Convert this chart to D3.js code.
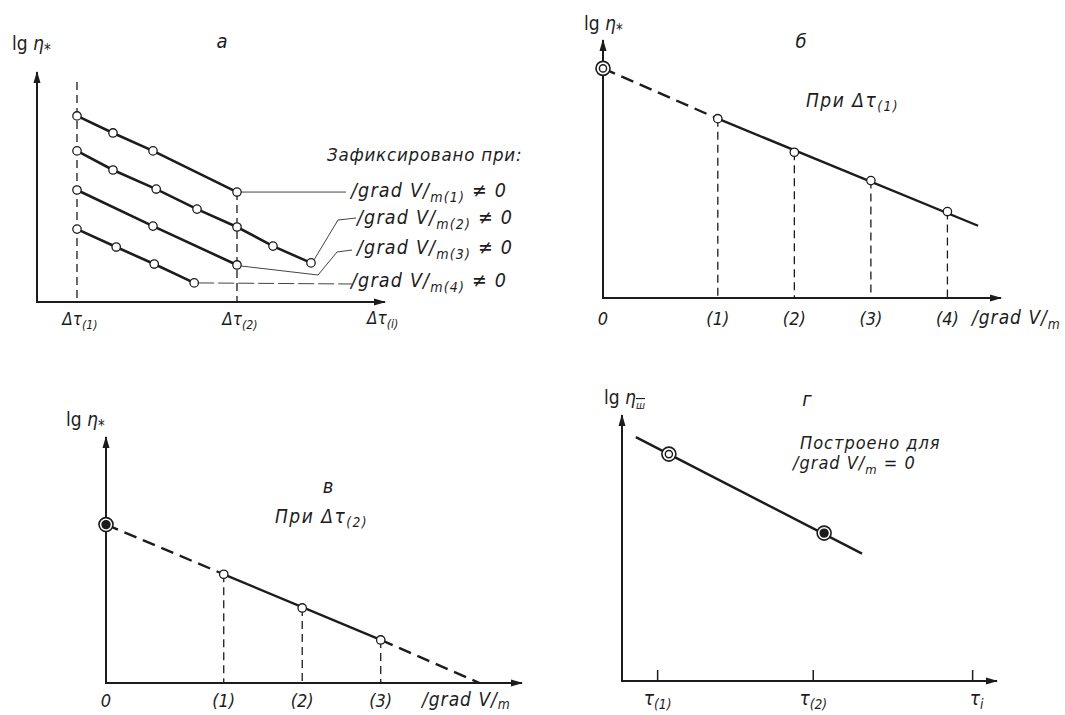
<!DOCTYPE html>
<html>
<head>
<meta charset="utf-8">
<script src="https://cdn.jsdelivr.net/npm/d3@7"></script>
<style>
body { margin: 0; background: #fff; }
text { font-family: "DejaVu Sans Condensed", "Liberation Sans Narrow", sans-serif; font-style: italic; fill: #1c1c1c; }
</style>
</head>
<body>
<svg id="chart" width="1065" height="715"></svg>
<script>
// panel a: lg eta vs delta tau, one line per fixed |grad V|
var aX1 = [1, 1.9, 2.9, 5], aY1 = [8.09, 7.35, 6.57, 4.78]
var aX2 = [1, 1.9, 2.98, 4, 5, 5.9, 6.85], aY2 = [6.57, 5.74, 4.91, 4.04, 3.26, 2.43, 1.70]
var aX3 = [1, 2.9, 5], aY3 = [4.87, 3.30, 1.61]
var aX4 = [1, 1.98, 2.93, 3.93], aY4 = [3.17, 2.39, 1.65, 0.83]
var aTauTicks = [1, 5]
var aTauNames = ["(1)", "(2)"]
var aGradNames = ["(1)", "(2)", "(3)", "(4)"]

// panel б: lg eta vs |grad V| at delta tau (1)
var bGrad = [1.5, 2.5, 3.5, 4.5]
var bLg = [6.95, 5.65, 4.55, 3.35]
var bZero = 8.9
var bEnd = [4.9, 2.8]

// panel в: lg eta vs |grad V| at delta tau (2)
var vGrad = [1.5, 2.5, 3.5]
var vLg = [4.42, 3.05, 1.75]
var vZero = 6.44
var vEnd = [4.76, 0]

// panel г: lg eta_ш vs tau
var gTau = [0.95, 5.1, 9.35]
var gTauNames = ["(1)", "(2)", "i"]
var gLineX = [0.37, 6.4], gLineY = [9.17, 4.79]
var gOpen = [1.25, 8.53]
var gFilled = [5.39, 5.56]

var ink = "#1c1c1c"
var svg = d3.select("#chart")

svg.append("defs").append("marker")
  .attr("id", "arr")
  .attr("viewBox", "0 -4 12 8")
  .attr("refX", 11).attr("refY", 0)
  .attr("markerWidth", 12).attr("markerHeight", 8)
  .attr("markerUnits", "userSpaceOnUse")
  .attr("orient", "auto")
  .append("path").attr("d", "M0,-3.5L12,0L0,3.5Z").attr("fill", ink)

// text with subscript pieces: [text, shift]
function rich(x, y, parts, size, anchor, spacing) {
  var t = svg.append("text").attr("x", x).attr("y", y)
    .attr("font-size", size).attr("text-anchor", anchor || "start")
    .attr("letter-spacing", spacing || 0)
  var cur = 0
  parts.forEach(function(p) {
    var shift = p[1] || 0
    var s = t.append("tspan").text(p[0]).attr("dy", shift - cur)
    if (shift > 0) s.attr("font-size", size * 0.72)
    cur = shift
  })
  return t
}

function axes(x, y) {
  var x0 = x(0), y0 = y(0)
  svg.append("line").attr("x1", x0).attr("y1", y0).attr("x2", x0).attr("y2", y.range()[1])
    .attr("stroke", ink).attr("stroke-width", 2).attr("marker-end", "url(#arr)")
  svg.append("line").attr("x1", x0 - 1).attr("y1", y0).attr("x2", x.range()[1]).attr("y2", y0)
    .attr("stroke", ink).attr("stroke-width", 2).attr("marker-end", "url(#arr)")
}

function lgLabel(x, y, sub) {
  var t = svg.append("text").attr("x", x).attr("y", y).attr("font-size", 19)
  t.append("tspan").text("lg ").attr("font-style", "normal")
  t.append("tspan").text("η")
  var s = t.append("tspan").text(sub).attr("dy", 5).attr("font-size", 15)
  if (sub == "ш") s.attr("text-decoration", "overline").attr("font-size", 11)
}

function seg(x, y, p, q, dash, w) {
  svg.append("line")
    .attr("x1", x(p[0])).attr("y1", y(p[1])).attr("x2", x(q[0])).attr("y2", y(q[1]))
    .attr("stroke", ink).attr("stroke-width", w || 2.4)
    .attr("stroke-dasharray", dash || null)
}

function openDot(cx, cy) {
  svg.append("circle").attr("cx", cx).attr("cy", cy).attr("r", 4.2)
    .attr("fill", "#fff").attr("stroke", ink).attr("stroke-width", 1.3)
}

function ringDot(cx, cy, filled) {
  svg.append("circle").attr("cx", cx).attr("cy", cy).attr("r", 7)
    .attr("fill", "#fff").attr("stroke", ink).attr("stroke-width", 1.6)
  svg.append("circle").attr("cx", cx).attr("cy", cy).attr("r", filled ? 4 : 3.6)
    .attr("fill", filled ? ink : "#fff").attr("stroke", ink).attr("stroke-width", 1.4)
}

var line = d3.line()

// ---------- panel a ----------
var ax = d3.scaleLinear().domain([0, 8.7]).range([37, 385])
var ay = d3.scaleLinear().domain([0, 10]).range([302, 72])

// dashed verticals at delta tau (1) and (2)
svg.append("line").attr("x1", ax(aTauTicks[0])).attr("x2", ax(aTauTicks[0]))
  .attr("y1", 82).attr("y2", ay(0))
  .attr("stroke", ink).attr("stroke-width", 1.3).attr("stroke-dasharray", "8,5")
svg.append("line").attr("x1", ax(aTauTicks[1])).attr("x2", ax(aTauTicks[1]))
  .attr("y1", ay(aY1[aY1.length - 1])).attr("y2", ay(0))
  .attr("stroke", ink).attr("stroke-width", 1.3).attr("stroke-dasharray", "8,5")

axes(ax, ay)

var aXs = [aX1, aX2, aX3, aX4], aYs = [aY1, aY2, aY3, aY4]

// leader lines from line ends to labels
var aLabelY = [197, 224, 254, 287]
var ends = aXs.map(function(xs, i) { return [ax(xs[xs.length - 1]), ay(aYs[i][aYs[i].length - 1])] })
var leaders = [
  [ends[0], [346, ends[0][1]]],
  [[ends[1][0] + 3, ends[1][1] - 3], [338, 220], [356, 218]],
  [[ends[2][0] + 4, ends[2][1] + 1], [318, 275], [337, 252], [352, 250]],
  [[ends[3][0] + 4, ends[3][1]], [352, 284]]
]
leaders.forEach(function(pts, i) {
  svg.append("path").attr("d", line(pts)).attr("fill", "none")
    .attr("stroke", "#444").attr("stroke-width", 1)
    .attr("stroke-dasharray", i == 3 ? "16,4" : null)
})

aXs.forEach(function(xs, i) {
  var pts = xs.map(function(v, j) { return [ax(v), ay(aYs[i][j])] })
  svg.append("path").attr("d", line(pts)).attr("fill", "none")
    .attr("stroke", ink).attr("stroke-width", 2.6)
  pts.forEach(function(p) { openDot(p[0], p[1]) })
})

lgLabel(12, 50, "*")
svg.append("text").attr("x", 222).attr("y", 48).attr("font-size", 20).attr("text-anchor", "middle").text("а")
svg.append("text").attr("x", 327).attr("y", 161).attr("font-size", 18.5)
  .attr("letter-spacing", 0.8).text("Зафиксировано при:")
aGradNames.forEach(function(n, i) {
  rich([351, 357, 357, 351][i], aLabelY[i], [["/grad V/"], ["m" + n, 5], [" ≠ 0", 0]], 19.5, "start", 1.2)
})
aTauTicks.forEach(function(v, i) {
  rich(ax(v) + 3, 325, [["Δτ"], [aTauNames[i], 4]], 17, "middle")
})
rich(367, 324, [["Δτ"], ["(i)", 4]], 17)

// ---------- panel б ----------
var bx = d3.scaleLinear().domain([0, 5.2]).range([603, 1001])
var by = d3.scaleLinear().domain([0, 10]).range([298, 40])

bGrad.forEach(function(g, i) {
  seg(bx, by, [g, bLg[i]], [g, 0], "8,5", 1.3)
})
axes(bx, by)
seg(bx, by, [0, bZero], [bGrad[0], bLg[0]], "13,7")
seg(bx, by, [bGrad[0], bLg[0]], bEnd)
bGrad.forEach(function(g, i) { openDot(bx(g), by(bLg[i])) })
ringDot(bx(0), by(bZero), false)

lgLabel(584, 30, "*")
svg.append("text").attr("x", 801).attr("y", 48).attr("font-size", 20).attr("text-anchor", "middle").text("б")
rich(806, 107, [["При  Δτ"], ["(1)", 4]], 19, "start", 1.5)
svg.append("text").attr("x", bx(0)).attr("y", 325).attr("font-size", 18).attr("text-anchor", "middle").text("0")
bGrad.forEach(function(g, i) {
  svg.append("text").attr("x", bx(g)).attr("y", 325).attr("font-size", 18).attr("text-anchor", "middle").text(aGradNames[i])
})
rich(972, 324, [["/grad V/"], ["m", 5]], 19, "start", 1)

// ---------- panel в ----------
var vx = d3.scaleLinear().domain([0, 5.3]).range([106, 522])
var vy = d3.scaleLinear().domain([0, 10]).range([683, 437])

vGrad.forEach(function(g, i) {
  seg(vx, vy, [g, vLg[i]], [g, 0], "8,5", 1.3)
})
axes(vx, vy)
seg(vx, vy, [0, vZero], [vGrad[0], vLg[0]], "13,7")
seg(vx, vy, [vGrad[0], vLg[0]], [vGrad[2], vLg[2]])
seg(vx, vy, [vGrad[2], vLg[2]], vEnd, "13,7")
vGrad.forEach(function(g, i) { openDot(vx(g), vy(vLg[i])) })
ringDot(vx(0), vy(vZero), true)

lgLabel(66, 426, "*")
svg.append("text").attr("x", 328).attr("y", 493).attr("font-size", 20).attr("text-anchor", "middle").text("в")
rich(275, 523, [["При  Δτ"], ["(2)", 4]], 19, "start", 1.5)
svg.append("text").attr("x", vx(0)).attr("y", 707).attr("font-size", 18).attr("text-anchor", "middle").text("0")
vGrad.forEach(function(g, i) {
  svg.append("text").attr("x", vx(g)).attr("y", 707).attr("font-size", 18).attr("text-anchor", "middle").text(aGradNames[i])
})
rich(422, 706, [["/grad V/"], ["m", 3]], 19, "start", 1)

// ---------- panel г ----------
var gx = d3.scaleLinear().domain([0, 10]).range([622, 997])
var gy = d3.scaleLinear().domain([0, 10]).range([681, 415])

axes(gx, gy)
gTau.forEach(function(t) {
  svg.append("line").attr("x1", gx(t)).attr("x2", gx(t)).attr("y1", gy(0) - 11).attr("y2", gy(0))
    .attr("stroke", ink).attr("stroke-width", 1.5)
})
seg(gx, gy, [gLineX[0], gLineY[0]], [gLineX[1], gLineY[1]])
ringDot(gx(gOpen[0]), gy(gOpen[1]), false)
ringDot(gx(gFilled[0]), gy(gFilled[1]), true)

lgLabel(604, 404, "ш")
svg.append("text").attr("x", 807).attr("y", 406).attr("font-size", 20).attr("text-anchor", "middle").text("г")
svg.append("text").attr("x", 800).attr("y", 449).attr("font-size", 18).attr("letter-spacing", 1).text("Построено для")
rich(793, 469, [["/grad V/"], ["m", 5], [" = 0", 0]], 18, "start", 1)
gTau.forEach(function(t, i) {
  rich(gx(t) + (i == 2 ? 4 : 0), 705, [["τ"], [gTauNames[i], 4]], 19, "middle")
})
</script>
</body>
</html>
